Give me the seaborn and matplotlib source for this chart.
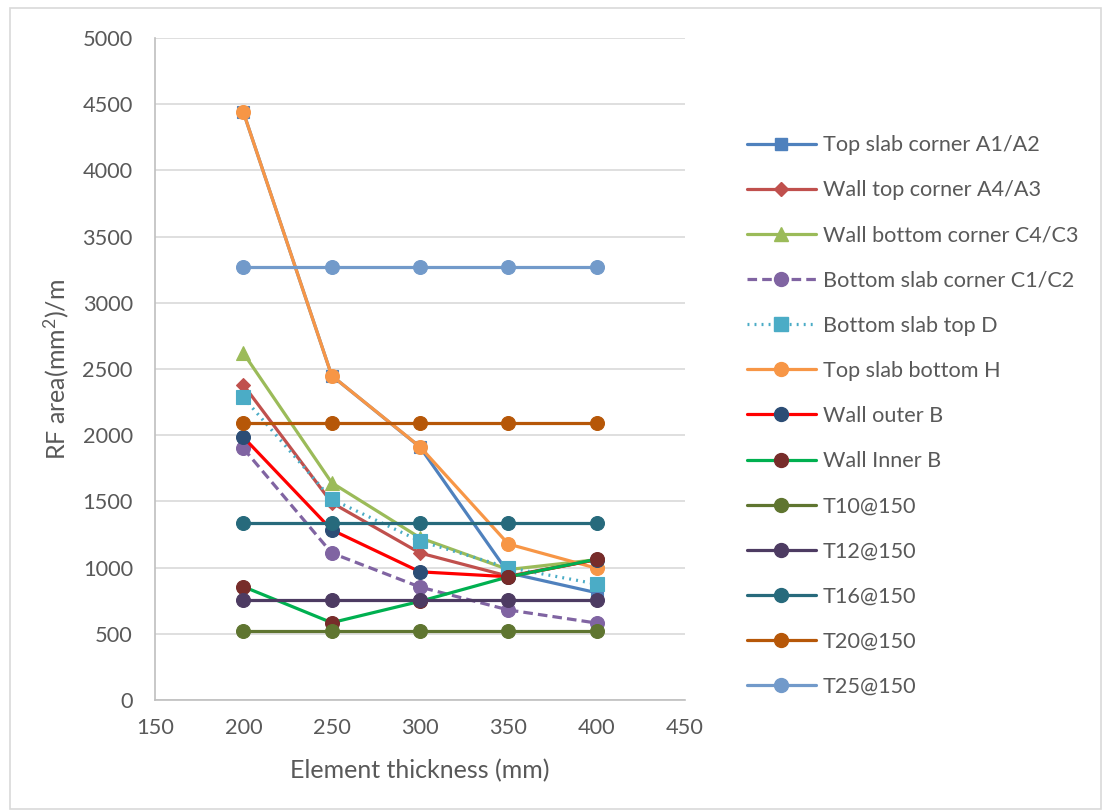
import matplotlib
matplotlib.use("Agg")
import matplotlib.pyplot as plt
import seaborn as sns
import pandas as pd
from matplotlib.lines import Line2D
from matplotlib.patches import Rectangle

# Element thickness (mm)
thickness = [200, 250, 300, 350, 400]

# Required reinforcement area (mm²/m) per location
top_slab_corner = [4440, 2450, 1910, 960, 810]
wall_top_corner = [2380, 1490, 1110, 935, 1060]
wall_bottom_corner = [2620, 1641, 1225, 985, 1060]
bottom_slab_corner = [1900, 1110, 853, 680, 581]
bottom_slab_top = [2285, 1517, 1200, 1000, 876]
top_slab_bottom = [4440, 2450, 1912, 1178, 995]
wall_outer = [1985, 1285, 968, 931, 1060]
wall_inner = [856, 584, 745, 930, 1063]

# Provided area of standard bar layouts (mm²/m)
t10 = [524, 524, 524, 524, 524]
t12 = [754, 754, 754, 754, 754]
t16 = [1340, 1340, 1340, 1340, 1340]
t20 = [2094, 2094, 2094, 2094, 2094]
t25 = [3272, 3272, 3272, 3272, 3272]

labels = ["Top slab corner A1/A2", "Wall top corner A4/A3", "Wall bottom corner C4/C3",
          "Bottom slab corner C1/C2", "Bottom slab top D", "Top slab bottom H",
          "Wall outer B", "Wall Inner B", "T10@150", "T12@150", "T16@150",
          "T20@150", "T25@150"]
values = [top_slab_corner, wall_top_corner, wall_bottom_corner, bottom_slab_corner,
          bottom_slab_top, top_slab_bottom, wall_outer, wall_inner,
          t10, t12, t16, t20, t25]

# (line colour, marker colour, marker, linestyle, marker size)
styles = [
    ("#4F81BD", "#4F81BD", "s", "-", 9),
    ("#C0504D", "#C0504D", "D", "-", 7),
    ("#9BBB59", "#9BBB59", "^", "-", 10),
    ("#8064A2", "#8064A2", "o", (0, (3.0, 1.6)), 10),
    ("#4BACC6", "#4BACC6", "s", (0, (0.6, 1.6)), 10),
    ("#F79646", "#F79646", "o", "-", 10),
    ("#FF0000", "#2C4D75", "o", "-", 10),
    ("#00B050", "#772C2A", "o", "-", 10),
    ("#5F7530", "#5F7530", "o", "-", 10),
    ("#4D3B62", "#4D3B62", "o", "-", 10),
    ("#276A7C", "#276A7C", "o", "-", 10),
    ("#B65708", "#B65708", "o", "-", 10),
    ("#729ACA", "#729ACA", "o", "-", 10),
]

sns.set_theme(style="white")
plt.rcParams["font.family"] = ["Lato", "DejaVu Sans"]
plt.rcParams["mathtext.default"] = "regular"
text_color = "#595959"
grid_color = "#D9D9D9"

fig = plt.figure(figsize=(11.02, 8.11), dpi=100)
ax = fig.add_axes([0.1407, 0.1369, 0.4809, 0.8162])

handles = []
for i, (lab, vals, (lc, mc, mk, ls, ms)) in enumerate(zip(labels, values, styles)):
    df = pd.DataFrame({"thickness": thickness, "area": vals})
    sns.lineplot(data=df, x="thickness", y="area", ax=ax, color=lc, linewidth=2.3,
                 linestyle=ls, marker=mk, markersize=ms, markerfacecolor=mc,
                 markeredgecolor=mc, markeredgewidth=0.8, zorder=3 + i,
                 legend=False)
    handles.append(Line2D([0], [0], color=lc, linewidth=2.3, linestyle=ls, marker=mk,
                          markersize=ms, markerfacecolor=mc, markeredgecolor=mc))

ax.set_xlim(150, 450)
ax.set_ylim(0, 5000)
ax.set_xticks(range(150, 451, 50))
ax.set_yticks(range(0, 5001, 500))
ax.yaxis.grid(True, color=grid_color, linewidth=1.2)
ax.xaxis.grid(False)
ax.set_axisbelow(True)
for side in ("top", "right"):
    ax.spines[side].set_visible(False)
for side in ("left", "bottom"):
    ax.spines[side].set_color("#BFBFBF")
    ax.spines[side].set_linewidth(1.2)
ax.tick_params(axis="both", length=0, labelsize=15.7, labelcolor=text_color)
ax.tick_params(axis="y", pad=16)
ax.tick_params(axis="x", pad=13)

ax.set_xlabel("Element thickness (mm)", fontsize=18, color=text_color, labelpad=15)
ax.set_ylabel("RF area(mm$^2$)/m", fontsize=18, color=text_color, labelpad=8)

fig.legend(handles, labels, loc="upper left", bbox_to_anchor=(0.670, 0.844),
           frameon=False, fontsize=15.6, handlelength=3.18, handletextpad=0.32,
           labelspacing=1.16, labelcolor=text_color, borderaxespad=0)

# Thin outer frame around the whole chart area
fig.patches.append(Rectangle((0.009, 0.002), 0.99, 0.988, transform=fig.transFigure,
                             fill=False, edgecolor=grid_color, linewidth=1.2))

fig.savefig("out.png", dpi=100)
